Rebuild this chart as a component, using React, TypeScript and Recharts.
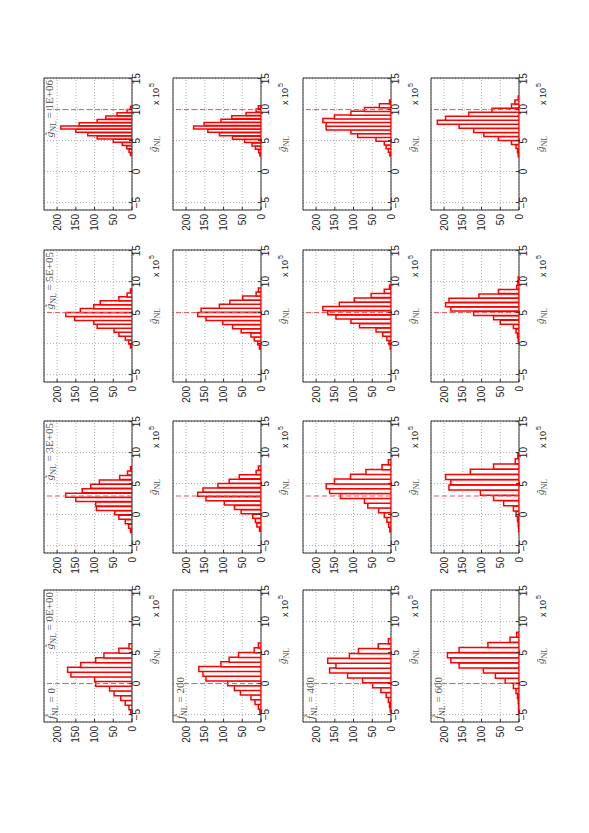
import { BarChart, Bar, XAxis, YAxis, CartesianGrid, ReferenceLine, ReferenceArea, Label } from "recharts";

// rows: f_NL, columns: true g_NL (the whole figure is shown rotated by 90 degrees)
const fValues = ["0", "200", "400", "600"];
const gValues = ["0E+00", "3E+05", "5E+05", "1E+06"];
const gTrue = [0, 3, 5, 10]; // x 10^5
const xTicks = [-5, 0, 5, 10, 15];
const yTicks = [0, 50, 100, 150, 200];
const xDomain = [-6.2, 15.1];
const yDomain = [0, 235];

// histogram range [lo, hi] (x 10^5) for each panel
const edgesF0 = [[-5.0, 6.4], [-2.9, 7.8], [-0.7, 8.8], [2.6, 10.6]];
const edgesF200 = [[-4.9, 6.5], [-2.7, 7.9], [-0.9, 9.0], [2.5, 10.7]];
const edgesF400 = [[-4.6, 7.2], [-2.8, 8.8], [-0.9, 9.5], [2.5, 11.5]];
const edgesF600 = [[-4.9, 8.3], [-2.8, 9.9], [0.3, 10.9], [2.4, 12.2]];

// bin counts, low to high
const countsF0 = [
  [3, 8, 18, 30, 48, 60, 97, 100, 163, 172, 137, 97, 75, 35, 8],
  [4, 9, 18, 35, 46, 95, 97, 150, 177, 133, 110, 87, 33, 12, 4],
  [4, 9, 18, 35, 48, 93, 102, 153, 177, 138, 102, 85, 35, 13, 4],
  [4, 8, 14, 26, 50, 93, 118, 150, 190, 141, 93, 70, 40, 13, 4],
];
const countsF200 = [
  [3, 7, 16, 27, 55, 71, 89, 147, 155, 166, 107, 85, 60, 18, 7],
  [4, 11, 15, 22, 53, 71, 98, 147, 169, 155, 115, 85, 58, 13, 7],
  [4, 9, 18, 27, 53, 76, 102, 147, 169, 160, 111, 83, 49, 13, 7],
  [3, 6, 15, 24, 44, 76, 111, 142, 180, 152, 107, 78, 40, 13, 7],
];
const countsF400 = [
  [2, 4, 7, 13, 27, 49, 76, 116, 164, 147, 169, 111, 87, 34, 7],
  [3, 6, 11, 18, 33, 62, 71, 135, 164, 173, 151, 108, 67, 24, 7],
  [2, 5, 11, 22, 40, 84, 107, 147, 169, 182, 138, 98, 53, 18, 4],
  [3, 7, 13, 18, 40, 89, 107, 173, 173, 182, 151, 107, 71, 31, 4],
];
const countsF600 = [
  [1, 1, 2, 4, 8, 15, 37, 63, 95, 160, 182, 191, 160, 83, 24, 6],
  [1, 2, 4, 8, 15, 41, 68, 103, 187, 182, 196, 130, 68, 10, 3],
  [2, 4, 8, 15, 50, 68, 121, 182, 196, 187, 107, 55, 6, 3, 2],
  [2, 4, 8, 20, 55, 94, 121, 160, 218, 196, 134, 72, 20, 11, 2],
];

const edges = [edgesF0, edgesF200, edgesF400, edgesF600];
const counts = [countsF0, countsF200, countsF400, countsF600];

// plot box positions in the unrotated figure
const rowTop = [44, 173, 303, 431];
const colLeft = [111, 280, 451, 623];
const plotW = 132;
const plotH = 88;

const serif = "'Liberation Serif', 'DejaVu Serif', serif";
const sans = "'Liberation Sans', Arial, sans-serif";
const tickStyle = { fontSize: 10, fill: "#222", fontFamily: sans };

const fmt = (v: number) => (v < 0 ? `\u2212${-v}` : `${v}`);

function Sym({ x, y, mark, rest, anchor }: any) {
  return (
    <text x={x} y={y} textAnchor={anchor} fontFamily={serif} fontSize={11} fill="#555">
      <tspan fontStyle="italic">{mark}</tspan>
      <tspan fontSize={8} dy={2.5}>NL</tspan>
      <tspan dy={-2.5}>{rest}</tspan>
    </text>
  );
}

const xLabel = (p: any) => {
  const vb = p.viewBox;
  return (
    <g>
      <Sym x={vb.x + vb.width / 2} y={vb.y + 25} mark={"g\u0302"} rest="" anchor="middle" />
      <text x={vb.x + vb.width - 10} y={vb.y + 27} textAnchor="end" fontFamily={sans} fontSize={9} fill="#222">
        x 10
      </text>
      <text x={vb.x + vb.width - 5} y={vb.y + 22} textAnchor="end" fontFamily={sans} fontSize={7} fill="#222">
        5
      </text>
    </g>
  );
};

function Panel({ f, g }: { f: number; g: number }) {
  const [lo, hi] = edges[f][g];
  const c = counts[f][g];
  const w = (hi - lo) / c.length;
  const data = c.map((n, i) => ({ x: lo + (i + 0.5) * w, n }));
  return (
    <div style={{ position: "absolute", left: colLeft[g] - 35, top: rowTop[f] - 5 }}>
      <BarChart
        width={35 + plotW + 10}
        height={5 + plotH + 40}
        data={data}
        margin={{ top: 5, right: 10, bottom: 0, left: 0 }}
        barCategoryGap={0}
        barGap={0}
      >
        <CartesianGrid stroke="#888" strokeWidth={0.7} strokeDasharray="1 2" />
        <XAxis
          type="number"
          dataKey="x"
          domain={xDomain}
          ticks={xTicks}
          allowDataOverflow
          interval={0}
          height={40}
          axisLine={false}
          tickLine={{ stroke: "#333" }}
          tickSize={-3}
          tickMargin={4}
          tick={tickStyle}
          tickFormatter={fmt}
          label={xLabel}
        />
        <YAxis
          type="number"
          domain={yDomain}
          ticks={yTicks}
          allowDataOverflow
          interval={0}
          width={35}
          axisLine={false}
          tickLine={{ stroke: "#333" }}
          tickSize={-3}
          tickMargin={7}
          tick={tickStyle}
        />
        <Bar dataKey="n" fill="#fff" stroke="#ff0000" strokeWidth={1.5} isAnimationActive={false} />
        <ReferenceLine x={gTrue[g]} stroke="#ee5555" strokeDasharray="5 3" strokeWidth={1} />
        <ReferenceArea x1={xDomain[0]} x2={xDomain[1]} y1={yDomain[0]} y2={yDomain[1]} fill="none" stroke="#333" strokeWidth={1} fillOpacity={0}>
          {g === 0 && (
            <Label
              content={(p: any) => (
                <Sym x={p.viewBox.x + 3} y={p.viewBox.y + 11} mark={"f\u0303"} rest={`\u00a0=\u00a0${fValues[f]}`} anchor="start" />
              )}
            />
          )}
          {f === 0 && (
            <Label
              content={(p: any) => (
                <Sym
                  x={p.viewBox.x + p.viewBox.width - 2}
                  y={p.viewBox.y + 9}
                  mark={"g\u0303"}
                  rest={`\u00a0=\u00a0${gValues[g]}`}
                  anchor="end"
                />
              )}
            />
          )}
        </ReferenceArea>
      </BarChart>
    </div>
  );
}

export default function App() {
  return (
    <div style={{ position: "fixed", left: 0, top: 0, width: 589, height: 833, overflow: "hidden", background: "#fff" }}>
      <div
        style={{
          position: "absolute",
          left: 0,
          top: 0,
          width: 833,
          height: 589,
          transformOrigin: "0 0",
          transform: "translate(0px, 833px) rotate(-90deg)",
        }}
      >
        {counts.map((row, f) => row.map((_, g) => <Panel key={`${f}-${g}`} f={f} g={g} />))}
      </div>
    </div>
  );
}
